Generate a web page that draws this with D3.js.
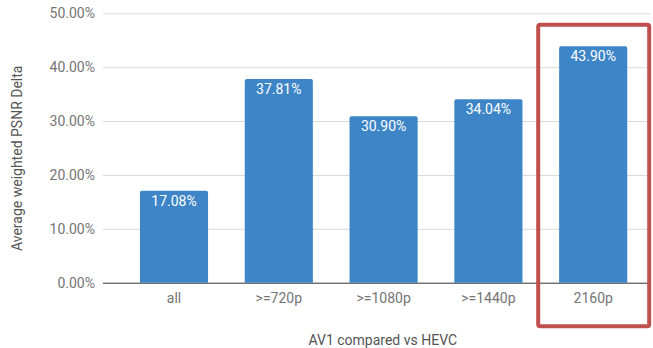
<!DOCTYPE html>
<html>
<head>
<meta charset="utf-8">
<script src="https://cdn.jsdelivr.net/npm/d3@7"></script>
<style>
  html, body { margin: 0; padding: 0; background: #fff; }
  svg { display: block; font-family: Roboto, "Noto Sans", sans-serif; }
</style>
</head>
<body>
<svg id="chart" width="653" height="348"></svg>
<script>
// Resolution buckets and their average weighted PSNR delta (%)
const categories = ["all", ">=720p", ">=1080p", ">=1440p", "2160p"];
const deltas = [17.08, 37.81, 30.90, 34.04, 43.90];
const yTicks = [0, 10, 20, 30, 40, 50];
const highlighted = "2160p";

const svg = d3.select("#chart");
const plot = { left: 103, right: 650, top: 13.3, bottom: 282.7 };

const x = d3.scaleBand()
  .domain(categories)
  .range([121.6, 645.6])
  .paddingInner(0.35)
  .paddingOuter(0.175);

const y = d3.scaleLinear()
  .domain([0, 50])
  .range([plot.bottom, plot.top]);

// Horizontal gridlines and tick labels
const yAxis = d3.axisLeft(y)
  .tickValues(yTicks)
  .tickSize(-(plot.right - plot.left))
  .tickPadding(8)
  .tickFormat(d => d.toFixed(2) + "%");

const gy = svg.append("g")
  .attr("transform", `translate(${plot.left},0)`)
  .call(yAxis);
gy.select(".domain").remove();
gy.selectAll(".tick line")
  .attr("stroke", d => d === 0 ? "#333" : "#d9d9d9")
  .attr("stroke-width", 1);
gy.selectAll(".tick text")
  .attr("fill", "#757575")
  .attr("font-size", 14)
  .attr("font-family", "Roboto, sans-serif");

// Bars with slightly rounded tops
const r = 2;
svg.append("g")
  .selectAll("path")
  .data(categories)
  .join("path")
  .attr("fill", "#3d85c6")
  .attr("d", (c, i) => {
    const x0 = x(c), w = x.bandwidth();
    const yt = y(deltas[i]), yb = y(0);
    return `M${x0},${yb} V${yt + r} Q${x0},${yt} ${x0 + r},${yt} H${x0 + w - r} Q${x0 + w},${yt} ${x0 + w},${yt + r} V${yb} Z`;
  });

// Value labels inside the bars
svg.append("g")
  .selectAll("text")
  .data(categories)
  .join("text")
  .attr("x", c => x(c) + x.bandwidth() / 2)
  .attr("y", (c, i) => y(deltas[i]) + 15)
  .attr("text-anchor", "middle")
  .attr("fill", "#fff")
  .attr("font-size", 14)
  .text((c, i) => deltas[i].toFixed(2) + "%");

// Category axis labels
const xAxis = d3.axisBottom(x).tickSize(0).tickPadding(10);
const gx = svg.append("g")
  .attr("transform", `translate(0,${plot.bottom})`)
  .call(xAxis);
gx.select(".domain").remove();
gx.selectAll(".tick text")
  .attr("fill", "#757575")
  .attr("font-size", 14)
  .attr("font-family", "Roboto, sans-serif");

// Axis titles
svg.append("text")
  .attr("x", 382.8)
  .attr("y", 345)
  .attr("text-anchor", "middle")
  .attr("fill", "#555")
  .attr("font-size", 14)
  .text("AV1 compared vs HEVC");

svg.append("text")
  .attr("transform", "translate(22,158.3) rotate(-90)")
  .attr("text-anchor", "middle")
  .attr("fill", "#555")
  .attr("font-size", 14)
  .text("Average weighted PSNR Delta");

// Highlight box around the 2160p column
const hx = x(highlighted) + x.bandwidth() / 2;
svg.append("rect")
  .attr("x", hx - 55)
  .attr("y", 24.7)
  .attr("width", 111)
  .attr("height", 301.5)
  .attr("rx", 2)
  .attr("fill", "none")
  .attr("stroke", "#c0504d")
  .attr("stroke-width", 4);
</script>
</body>
</html>
